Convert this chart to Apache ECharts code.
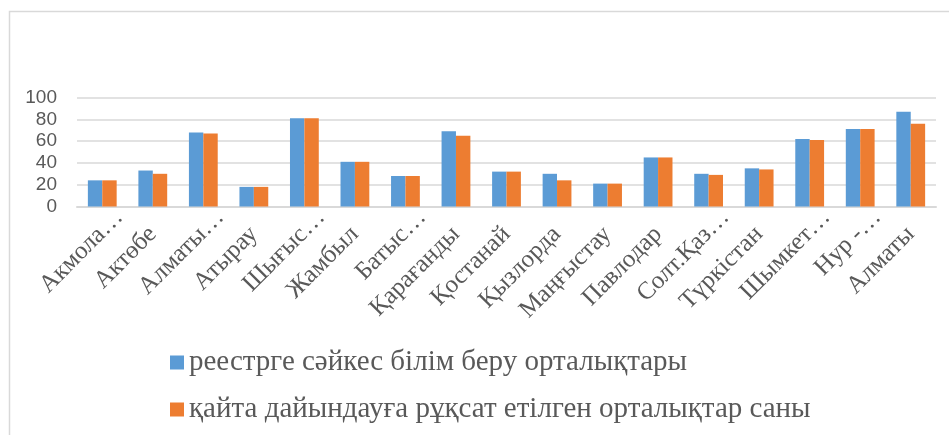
<!DOCTYPE html>
<html>
<head>
<meta charset="utf-8">
<script src="https://cdn.jsdelivr.net/npm/echarts@6/dist/echarts.min.js"></script>
<style>
  html, body { margin: 0; padding: 0; background: #fff; }
  #main { width: 949px; height: 435px; }
</style>
</head>
<body>
<div id="main"></div>
<script>
// облыстар (жазуы суреттегідей, қысқартулармен)
var regions = ['Акмола…', 'Актөбе', 'Алматы…', 'Атырау', 'Шығыс…', 'Жамбыл', 'Батыс…', 'Қарағанды',
  'Қостанай', 'Қызлорда', 'Маңғыстау', 'Павлодар', 'Солт.Қаз…', 'Түркістан', 'Шымкет…', 'Нур -…', 'Алматы'];
// реестрге сәйкес
var registry = [24, 33, 68, 18, 81, 41, 28, 69, 32, 30, 21, 45, 30, 35, 62, 71, 87];
// рұқсат етілген
var allowed = [24, 30, 67, 18, 81, 41, 28, 65, 32, 24, 21, 45, 29, 34, 61, 71, 76];
var yTicks = [0, 20, 40, 60, 80, 100];

var seriesNames = ['реестрге сәйкес білім беру орталықтары', 'қайта дайындауға рұқсат етілген орталықтар саны'];

var serif = '"Liberation Serif", "DejaVu Serif", serif';

// Excel-де көп нүкте шетке шығып тұрады, сондықтан оны сәл ығыстырамыз
var catData = regions.map(function (name) {
  if (name.slice(-1) === '…') {
    return { value: name, textStyle: { padding: [0, -24, 0, 0] } };
  }
  return name;
});

var myChart = echarts.init(document.getElementById('main'));
myChart.setOption({
  animation: false,
  graphic: [{
    type: 'rect',
    shape: { x: 9.5, y: 11.5, width: 1000, height: 500 },
    style: { fill: 'none', stroke: '#d9d9d9', lineWidth: 1.5 },
    silent: true
  }],
  grid: { left: 77, right: 13, top: 97.5, bottom: 228.5, containLabel: false },
  legend: {
    orient: 'vertical',
    left: 165,
    top: 343,
    itemWidth: 14,
    itemHeight: 14,
    itemGap: 18,
    icon: 'rect',
    textStyle: { fontFamily: serif, fontSize: 29, color: '#595959' },
    data: seriesNames
  },
  xAxis: {
    type: 'category',
    data: catData,
    axisTick: { show: false },
    axisLine: { lineStyle: { color: '#d9d9d9', width: 2 } },
    axisLabel: {
      interval: 0,
      rotate: 45,
      margin: 24,
      fontFamily: serif,
      fontSize: 25,
      color: '#595959'
    }
  },
  yAxis: {
    type: 'value',
    min: yTicks[0],
    max: yTicks[yTicks.length - 1],
    interval: 20,
    axisLine: { show: false },
    axisTick: { show: false },
    splitLine: { lineStyle: { color: '#d9d9d9', width: 1.5 } },
    axisLabel: { fontFamily: '"Liberation Sans", sans-serif', fontSize: 19, color: '#595959', margin: 20 }
  },
  series: [{
    name: seriesNames[0],
    type: 'bar',
    data: registry,
    barGap: '0%',
    barCategoryGap: '43%',
    itemStyle: { color: '#5b9bd5' }
  }, {
    name: seriesNames[1],
    type: 'bar',
    data: allowed,
    barGap: '0%',
    barCategoryGap: '43%',
    itemStyle: { color: '#ed7d31' }
  }]
});
</script>
</body>
</html>
